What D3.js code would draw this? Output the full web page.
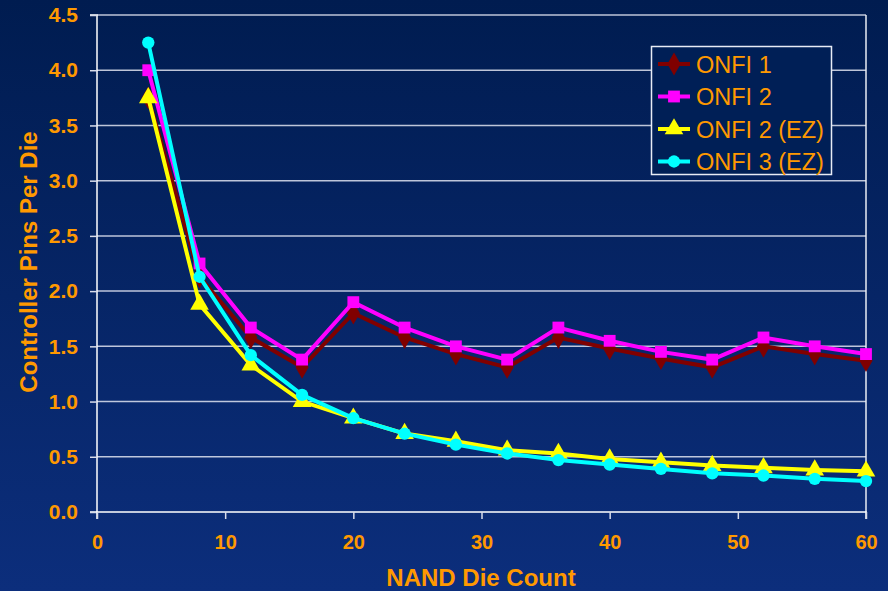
<!DOCTYPE html>
<html><head><meta charset="utf-8">
<script src="https://cdn.jsdelivr.net/npm/d3@7"></script>
<style>html,body{margin:0;padding:0;background:#0a2a70;}svg{display:block;}</style>
</head><body>
<svg id="chart" width="888" height="591"></svg>
<script>
const dieCounts = [4, 8, 12, 16, 20, 24, 28, 32, 36, 40, 44, 48, 52, 56, 60];
const onfi1   = [3.75, 2.13, 1.58, 1.31, 1.80, 1.58, 1.43, 1.31, 1.58, 1.48, 1.39, 1.31, 1.50, 1.43, 1.37];
const onfi2   = [4.00, 2.25, 1.67, 1.38, 1.90, 1.67, 1.50, 1.38, 1.67, 1.55, 1.45, 1.38, 1.58, 1.50, 1.43];
const onfi2ez = [3.75, 1.88, 1.33, 1.00, 0.85, 0.71, 0.64, 0.56, 0.53, 0.48, 0.45, 0.42, 0.40, 0.38, 0.37];
const onfi3ez = [4.25, 2.13, 1.42, 1.06, 0.85, 0.71, 0.61, 0.53, 0.47, 0.43, 0.39, 0.35, 0.33, 0.30, 0.28];
const seriesNames = ["ONFI 1", "ONFI 2", "ONFI 2 (EZ)", "ONFI 3 (EZ)"];
const seriesColors = ["#800000", "#ff00ff", "#ffff00", "#00ffff"];
const seriesSymbols = [d3.symbolDiamond, d3.symbolSquare, d3.symbolTriangle, d3.symbolCircle];
const xTicks = [0, 10, 20, 30, 40, 50, 60];
const yTicks = [0, 0.5, 1.0, 1.5, 2.0, 2.5, 3.0, 3.5, 4.0, 4.5];
const xTitle = "NAND Die Count";
const yTitle = "Controller Pins Per Die";

const svg = d3.select("#chart");
const W = 888, H = 591;
const orange = "#ff9900";
const font = "Liberation Sans, Arial, sans-serif";

const defs = svg.append("defs");
const grad = defs.append("linearGradient").attr("id", "bg").attr("x1", 0).attr("y1", 0).attr("x2", 0).attr("y2", 1);
grad.append("stop").attr("offset", "0%").attr("stop-color", "#001c50");
grad.append("stop").attr("offset", "100%").attr("stop-color", "#0c2e7c");
svg.append("rect").attr("width", W).attr("height", H).attr("fill", "url(#bg)");

const m = {left: 97, right: 866, top: 15, bottom: 512};
const x = d3.scaleLinear().domain([0, 60]).range([m.left, m.right]);
const y = d3.scaleLinear().domain([0, 4.5]).range([m.bottom, m.top]);

// gridlines
svg.append("g").selectAll("line").data(yTicks.filter(v => v > 0)).join("line")
  .attr("x1", m.left).attr("x2", m.right)
  .attr("y1", d => y(d)).attr("y2", d => y(d))
  .attr("stroke", "#dfe3f0").attr("stroke-width", 1.5).attr("stroke-opacity", 0.85);

// right border
svg.append("line").attr("x1", m.right).attr("x2", m.right).attr("y1", m.top).attr("y2", m.bottom)
  .attr("stroke", "#e8ecf5").attr("stroke-width", 1.5);

// axes
const yAxis = d3.axisLeft(y).tickValues(yTicks).tickFormat(d3.format(".1f")).tickSize(7).tickPadding(12);
const gy = svg.append("g").attr("transform", `translate(${m.left},0)`).call(yAxis);
const xAxis = d3.axisBottom(x).tickValues(xTicks).tickSize(7).tickPadding(16);
const gx = svg.append("g").attr("transform", `translate(0,${m.bottom})`).call(xAxis);
[gx, gy].forEach(g => {
  g.select(".domain").attr("stroke", "#ffffff").attr("stroke-width", 1.5);
  g.selectAll(".tick line").attr("stroke", "#d8dcea").attr("stroke-width", 1.5);
});
gy.select(".domain").attr("d", `M-7,${m.top}H0V${m.bottom}H-7`);
gx.select(".domain").attr("d", `M${m.left},7V0H${m.right}V7`);
gy.selectAll(".tick text").attr("fill", orange).attr("font-family", font)
  .attr("font-weight", "bold").attr("font-size", 21);
gx.selectAll(".tick text").attr("fill", orange).attr("font-family", font)
  .attr("font-weight", "bold").attr("font-size", 20);

// titles
svg.append("text").attr("x", (m.left + m.right) / 2 - 0.5).attr("y", 586)
  .attr("text-anchor", "middle").attr("fill", orange)
  .attr("font-family", font).attr("font-weight", "bold").attr("font-size", 24).text(xTitle);
svg.append("text").attr("transform", `translate(37,262) rotate(-90)`)
  .attr("text-anchor", "middle").attr("fill", orange)
  .attr("font-family", font).attr("font-weight", "bold").attr("font-size", 24).text(yTitle);

// series
const allSeries = [onfi1, onfi2, onfi2ez, onfi3ez];
const line = d3.line().x((d, i) => x(dieCounts[i])).y(d => y(d));
const symSizes = [150, 140, 150, 120];
allSeries.forEach((vals, s) => {
  const g = svg.append("g");
  g.append("path").datum(vals).attr("d", line).attr("fill", "none")
    .attr("stroke", seriesColors[s]).attr("stroke-width", 4).attr("stroke-linejoin", "miter");
  g.selectAll("path.pt").data(vals).join("path").attr("class", "pt")
    .attr("transform", (d, i) => `translate(${x(dieCounts[i])},${y(d)})`)
    .attr("d", d3.symbol().type(seriesSymbols[s]).size(symSizes[s]))
    .attr("fill", seriesColors[s]);
});

// legend
const lg = svg.append("g");
lg.append("rect").attr("x", 651.5).attr("y", 46.5).attr("width", 180).attr("height", 128)
  .attr("fill", "#001f56").attr("stroke", "#e8ecf5").attr("stroke-width", 1.5);
seriesNames.forEach((name, s) => {
  const cy = 64 + s * 32.5;
  lg.append("line").attr("x1", 658).attr("x2", 690).attr("y1", cy).attr("y2", cy)
    .attr("stroke", seriesColors[s]).attr("stroke-width", 4);
  lg.append("path").attr("transform", `translate(674,${cy})`)
    .attr("d", d3.symbol().type(seriesSymbols[s]).size(symSizes[s])).attr("fill", seriesColors[s]);
  lg.append("text").attr("x", 696).attr("y", cy + 8.5).attr("fill", orange)
    .attr("font-family", font).attr("font-size", 23.5).text(name);
});
</script>
</body></html>
